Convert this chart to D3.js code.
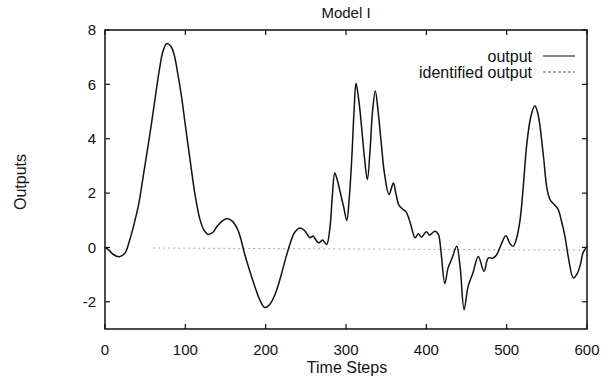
<!DOCTYPE html>
<html>
<head>
<meta charset="utf-8">
<script src="https://cdn.jsdelivr.net/npm/d3@7"></script>
<style>
  body { margin: 0; background: #fff; }
  text { font-family: "Liberation Sans", Arial, sans-serif; fill: #111; }
</style>
</head>
<body>
<div id="chart"></div>
<script>
// time steps and output values
var steps = [0, 5, 10, 18, 25, 30, 35, 42, 48, 55, 60, 68, 72, 77, 82, 86, 90, 95, 100, 106,
  112, 118, 123, 128, 134, 140, 147, 153, 159, 166, 174, 180, 187, 193, 199, 205, 212, 218, 224, 230,
  236, 243, 249, 255, 259, 262, 266, 271, 273, 276, 280, 283, 286, 289, 292.5, 297, 301, 304, 307, 310,
  312.5, 316, 319.5, 323, 326.6, 330, 333, 336.5, 340, 344, 348, 353.5, 359, 362, 366, 371, 375, 380, 386, 390,
  394, 400, 404, 408, 411, 415, 418, 423, 427, 432, 437.8, 442, 447, 452, 458, 464.7, 471.8, 477, 483, 487.6,
  493, 499, 504, 508, 512, 516.6, 520, 525, 530, 535, 539, 545.6, 550, 554, 560, 564, 568, 572.6, 577, 583,
  588, 592, 595, 600];
var output = [0.0, -0.1, -0.25, -0.34, -0.2, 0.2, 0.72, 1.6, 2.7, 4.0, 5.0, 6.6, 7.2, 7.5, 7.4, 7.1, 6.5, 5.6, 4.5, 3.2,
  1.95, 1.05, 0.65, 0.48, 0.55, 0.8, 1.0, 1.06, 0.95, 0.6, -0.26, -0.85, -1.48, -1.95, -2.21, -2.1, -1.7, -1.15, -0.5, 0.1,
  0.55, 0.72, 0.6, 0.36, 0.42, 0.3, 0.17, 0.27, 0.2, 0.11, 0.72, 1.9, 2.74, 2.5, 2.07, 1.5, 0.99, 1.8, 3.17, 5.0,
  6.04, 5.4, 4.4, 3.3, 2.5, 3.6, 5.0, 5.76, 5.0, 3.8, 2.7, 1.95, 2.37, 2.0, 1.55, 1.4, 1.3, 0.9, 0.36, 0.5,
  0.38, 0.58, 0.45, 0.55, 0.6, 0.48, -0.08, -1.33, -0.76, -0.4, 0.04, -0.7, -2.29, -1.43, -0.94, -0.33, -0.88, -0.39, -0.39, -0.27,
  0.1, 0.43, 0.15, 0.04, 0.3, 1.0, 2.0, 3.78, 4.8, 5.21, 4.9, 3.41, 2.2, 1.76, 1.55, 1.4, 1.0, 0.4, -0.4, -1.12,
  -0.95, -0.6, -0.2, 0.04];

// identified output stays near zero
var identSteps = [60, 600];
var identOutput = [-0.02, -0.1];

var xTicks = [0, 100, 200, 300, 400, 500, 600];
var yTicks = [-2, 0, 2, 4, 6, 8];
var legendLabels = ["output", "identified output"];

var width = 615, height = 378;
var pLeft = 105, pRight = 587, pTop = 30, pBottom = 329;

var svg = d3.select("#chart").append("svg")
    .attr("width", width)
    .attr("height", height);

var x = d3.scaleLinear().domain([0, 600]).range([pLeft, pRight]);
var y = d3.scaleLinear().domain([-3, 8]).range([pBottom, pTop]);

// inward ticks on all four sides, gnuplot style
var tickLen = 5;
var ticks = svg.append("g").attr("stroke", "#111").attr("stroke-width", 1.2);

xTicks.forEach(function(t) {
    ticks.append("line").attr("x1", x(t)).attr("x2", x(t)).attr("y1", pBottom).attr("y2", pBottom - tickLen);
    ticks.append("line").attr("x1", x(t)).attr("x2", x(t)).attr("y1", pTop).attr("y2", pTop + tickLen);
});
yTicks.forEach(function(t) {
    ticks.append("line").attr("x1", pLeft).attr("x2", pLeft + tickLen).attr("y1", y(t)).attr("y2", y(t));
    ticks.append("line").attr("x1", pRight).attr("x2", pRight - tickLen).attr("y1", y(t)).attr("y2", y(t));
});

svg.selectAll(".xlab")
    .data(xTicks)
    .enter()
    .append("text")
    .attr("x", function(d) { return x(d); })
    .attr("y", 355)
    .attr("text-anchor", "middle")
    .style("font-size", "15px")
    .text(function(d) { return d; });

svg.selectAll(".ylab")
    .data(yTicks)
    .enter()
    .append("text")
    .attr("x", 96)
    .attr("y", function(d) { return y(d); })
    .attr("dy", "0.36em")
    .attr("text-anchor", "end")
    .style("font-size", "15px")
    .text(function(d) { return d; });

// identified output, faint dotted line
var identLine = d3.line()
    .x(function(d, i) { return x(identSteps[i]); })
    .y(function(d) { return y(d); });

svg.append("path")
    .attr("d", identLine(identOutput))
    .attr("fill", "none")
    .attr("stroke", "#aaa")
    .attr("stroke-width", 1)
    .attr("stroke-dasharray", "2,3");

var outLine = d3.line()
    .x(function(d, i) { return x(steps[i]); })
    .y(function(d) { return y(d); })
    .curve(d3.curveCatmullRom.alpha(0.5));

svg.append("path")
    .attr("d", outLine(output))
    .attr("fill", "none")
    .attr("stroke", "#111")
    .attr("stroke-width", 1.5);

// frame
svg.append("rect")
    .attr("x", pLeft)
    .attr("y", pTop)
    .attr("width", pRight - pLeft)
    .attr("height", pBottom - pTop)
    .attr("fill", "none")
    .attr("stroke", "#111")
    .attr("stroke-width", 1.5);

// legend
var legend = svg.append("g");
legendLabels.forEach(function(lab, i) {
    var ly = 56 + i * 16;
    legend.append("text")
        .attr("x", 532)
        .attr("y", ly)
        .attr("dy", "0.36em")
        .attr("text-anchor", "end")
        .style("font-size", "16px")
        .text(lab);
    legend.append("line")
        .attr("x1", 543).attr("x2", 575)
        .attr("y1", ly).attr("y2", ly)
        .attr("stroke", i == 0 ? "#111" : "#555")
        .attr("stroke-width", 1)
        .attr("stroke-dasharray", i == 0 ? null : "3,2");
});

svg.append("text")
    .attr("x", 346)
    .attr("y", 18)
    .attr("text-anchor", "middle")
    .style("font-size", "15px")
    .text("Model I");

svg.append("text")
    .attr("x", 347)
    .attr("y", 373)
    .attr("text-anchor", "middle")
    .style("font-size", "16px")
    .text("Time Steps");

svg.append("text")
    .attr("transform", "translate(26,182) rotate(-90)")
    .attr("text-anchor", "middle")
    .style("font-size", "16px")
    .text("Outputs");
</script>
</body>
</html>
